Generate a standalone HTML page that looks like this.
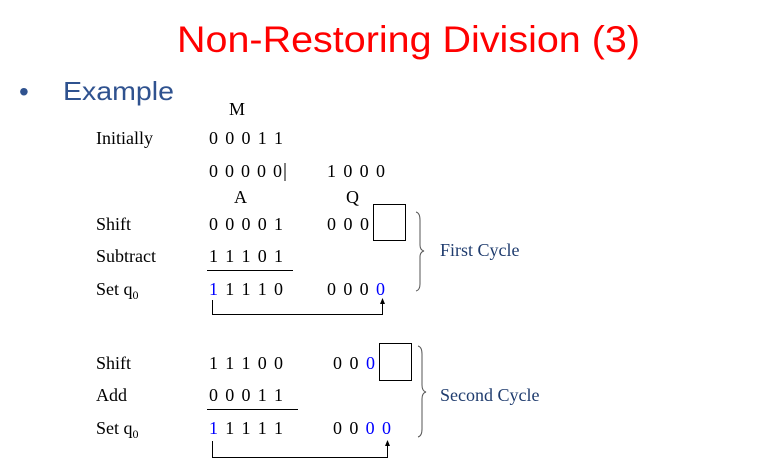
<!DOCTYPE html>
<html><head><meta charset="utf-8"><style>
html,body{margin:0;padding:0;background:#fff;}
svg{display:block;}
.t{font-family:"Liberation Serif",serif;font-size:18px;fill:#000;}
.b{fill:#0000ff;}
.n{fill:#1f3c6e;}
</style></head><body>
<svg width="777" height="467" viewBox="0 0 777 467" xmlns="http://www.w3.org/2000/svg">
<text x="177" y="52" font-family="Liberation Sans,sans-serif" font-size="37" fill="#ff0000" textLength="463" lengthAdjust="spacingAndGlyphs">Non-Restoring Division (3)</text>
<text x="19" y="101" font-family="Liberation Sans,sans-serif" font-size="28" fill="#2f528f">•</text>
<text x="63" y="100" font-family="Liberation Sans,sans-serif" font-size="26" fill="#2f528f" textLength="111" lengthAdjust="spacingAndGlyphs">Example</text>

<text class="t" x="229" y="115" font-size="23">M</text>
<text class="t" x="96" y="144">Initially</text>
<text class="t" x="209" y="144" textLength="74">0 0 0 1 1</text>
<text class="t" x="209" y="177" textLength="73">0 0 0 0 0</text>
<line x1="285" y1="163" x2="285" y2="181" stroke="#000" stroke-width="1"/>
<text class="t" x="327" y="177" textLength="58">1 0 0 0</text>
<text class="t" x="234" y="203" font-size="23">A</text>
<text class="t" x="346" y="203" font-size="23">Q</text>

<text class="t" x="96" y="230">Shift</text>
<text class="t" x="209" y="230" textLength="74">0 0 0 0 1</text>
<text class="t" x="327" y="230" textLength="42">0 0 0</text>
<rect x="373.5" y="204.5" width="32" height="36" fill="none" stroke="#000"/>
<text class="t" x="96" y="262">Subtract</text>
<text class="t" x="209" y="262" textLength="74">1 1 1 0 1</text>
<line x1="207" y1="270.5" x2="293" y2="270.5" stroke="#000"/>
<text class="t" x="96" y="295">Set q<tspan font-size="12" dy="4">0</tspan></text>
<text class="t" x="209" y="295" textLength="74"><tspan class="b">1</tspan> 1 1 1 0</text>
<text class="t" x="327" y="295" textLength="58">0 0 0 <tspan class="b">0</tspan></text>
<path d="M212.5 300 V314.5 H382.5 V303" fill="none" stroke="#000"/>
<path d="M380 304 L382.5 298 L385 304 Z" fill="#000"/>
<path d="M416 212 Q420 213 420 220 V245 Q420 250 424 251 Q420 252 420 257 V284 Q420 290 416 291" fill="none" stroke="#555"/>
<text class="t n" x="440" y="256" font-size="19">First Cycle</text>

<text class="t" x="96" y="369">Shift</text>
<text class="t" x="209" y="369" textLength="74">1 1 1 0 0</text>
<text class="t" x="333" y="369" textLength="42">0 0 <tspan class="b">0</tspan></text>
<rect x="379.5" y="343.5" width="32" height="37" fill="none" stroke="#000"/>
<text class="t" x="96" y="401">Add</text>
<text class="t" x="209" y="401" textLength="74">0 0 0 1 1</text>
<line x1="207" y1="409.5" x2="298" y2="409.5" stroke="#000"/>
<text class="t" x="96" y="434">Set q<tspan font-size="12" dy="4">0</tspan></text>
<text class="t" x="209" y="434" textLength="74"><tspan class="b">1</tspan> 1 1 1 1</text>
<text class="t" x="333" y="434" textLength="58">0 0 <tspan class="b">0 0</tspan></text>
<path d="M212.5 441 V457.5 H387.5 V445" fill="none" stroke="#000"/>
<path d="M385 446 L387.5 440 L390 446 Z" fill="#000"/>
<path d="M418 346 Q422 347 422 354 V385 Q422 391 426 392 Q422 393 422 399 V429 Q422 436 418 437" fill="none" stroke="#555"/>
<text class="t n" x="440" y="401" font-size="19">Second Cycle</text>
</svg>
</body></html>
